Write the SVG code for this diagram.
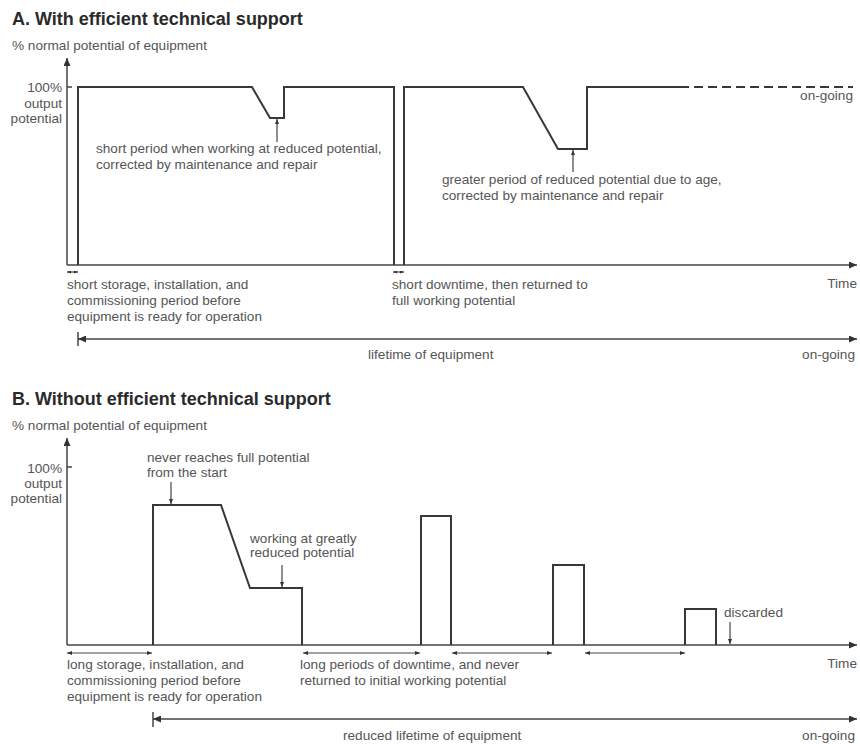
<svg xmlns="http://www.w3.org/2000/svg" width="860" height="744" viewBox="0 0 860 744">
<defs>
<style>
text { font-family: "Liberation Sans", Arial, sans-serif; font-size: 13.6px; fill: #555; }
.title { font-size: 18px; font-weight: bold; fill: #2a2a2a; }
.r { text-anchor: end; }
.curve { fill: none; stroke: #383838; stroke-width: 2; stroke-linejoin: miter; }
.axis { fill: none; stroke: #444; stroke-width: 1.5; }
.ptr { fill: none; stroke: #444; stroke-width: 1.2; }
.dash { stroke-dasharray: 9 5; }
</style>
<marker id="ah" viewBox="0 0 8 7" refX="8" refY="3.5" markerWidth="8" markerHeight="7" markerUnits="userSpaceOnUse" orient="auto-start-reverse"><path d="M0,0 L8,3.5 L0,7 z" fill="#333"/></marker>
<marker id="as" viewBox="0 0 5 4" refX="5" refY="2" markerWidth="5" markerHeight="4" markerUnits="userSpaceOnUse" orient="auto-start-reverse"><path d="M0,0 L5,2 L0,4 z" fill="#333"/></marker>
<marker id="at" viewBox="0 0 4 3" refX="4" refY="1.5" markerWidth="4" markerHeight="3" markerUnits="userSpaceOnUse" orient="auto-start-reverse"><path d="M0,0 L4,1.5 L0,3 z" fill="#333"/></marker>
</defs>

<g id="sectionA">
  <g id="A-title"><text class="title" x="12" y="25">A. With efficient technical support</text></g>
  <g id="A-yaxis">
    <text x="12" y="50">% normal potential of equipment</text>
    <line class="axis" x1="67" y1="265" x2="67" y2="58" marker-end="url(#ah)"/>
    <line class="axis" x1="67" y1="87" x2="72" y2="87"/>
    <text class="r" x="62" y="92">100%</text>
    <text class="r" x="62" y="108">output</text>
    <text class="r" x="62" y="123">potential</text>
  </g>
  <g id="A-xaxis">
    <line class="axis" x1="67" y1="265" x2="857" y2="265" marker-end="url(#ah)"/>
    <text class="r" x="857" y="288">Time</text>
  </g>
  <g id="A-curve">
    <path class="curve" d="M78,265 V87 H252 L270,118 H284 V87 H394 V265"/>
    <path class="curve" d="M404,265 V87 H523 L558,149 H587 V87 H680"/>
    <path class="curve dash" d="M680,87 H853"/>
    <text class="r" x="853" y="100">on-going</text>
  </g>
  <g id="A-note1">
    <text x="96" y="153">short period when working at reduced potential,</text>
    <text x="96" y="169">corrected by maintenance and repair</text>
  </g>
  <g id="A-note2">
    <text x="442" y="184">greater period of reduced potential due to age,</text>
    <text x="442" y="200">corrected by maintenance and repair</text>
  </g>
  <g id="A-note3">
    <text x="67" y="289">short storage, installation, and</text>
    <text x="67" y="305">commissioning period before</text>
    <text x="67" y="321">equipment is ready for operation</text>
  </g>
  <g id="A-note4">
    <text x="392" y="289">short downtime, then returned to</text>
    <text x="392" y="305">full working potential</text>
  </g>
  <g id="A-lifetime">
    <line class="axis" x1="78" y1="332" x2="78" y2="346"/>
    <line class="axis" x1="78" y1="339" x2="857" y2="339" marker-start="url(#ah)" marker-end="url(#ah)"/>
    <text x="368" y="359">lifetime of equipment</text>
    <text class="r" x="855" y="359">on-going</text>
  </g>
</g>

<g id="sectionB">
  <g id="B-title"><text class="title" x="12" y="405">B. Without efficient technical support</text></g>
  <g id="B-yaxis">
    <text x="12" y="430">% normal potential of equipment</text>
    <line class="axis" x1="67" y1="645" x2="67" y2="438" marker-end="url(#ah)"/>
    <line class="axis" x1="67" y1="467" x2="72" y2="467"/>
    <text class="r" x="62" y="473">100%</text>
    <text class="r" x="62" y="488">output</text>
    <text class="r" x="62" y="503">potential</text>
  </g>
  <g id="B-xaxis">
    <line class="axis" x1="67" y1="645" x2="857" y2="645" marker-end="url(#ah)"/>
    <text class="r" x="857" y="668">Time</text>
  </g>
  <g id="B-curve">
    <path class="curve" d="M153,645 V505 H221 L250,588 H302 V645"/>
    <path class="curve" d="M421,645 V516 H451 V645"/>
    <path class="curve" d="M553,645 V565 H584 V645"/>
    <path class="curve" d="M685,645 V609 H716 V645"/>
  </g>
  <g id="B-note1">
    <text x="147" y="462">never reaches full potential</text>
    <text x="147" y="477">from the start</text>
  </g>
  <g id="B-note2">
    <text x="250" y="543">working at greatly</text>
    <text x="250" y="557">reduced potential</text>
  </g>
  <g id="B-note3">
    <text x="724" y="617">discarded</text>
  </g>
  <g id="B-note4">
    <text x="67" y="669">long storage, installation, and</text>
    <text x="67" y="685">commissioning period before</text>
    <text x="67" y="701">equipment is ready for operation</text>
  </g>
  <g id="B-note5">
    <text x="300" y="669">long periods of downtime, and never</text>
    <text x="300" y="685">returned to initial working potential</text>
  </g>
  <g id="B-lifetime">
    <line class="axis" x1="153" y1="712" x2="153" y2="727"/>
    <line class="axis" x1="153" y1="719" x2="857" y2="719" marker-start="url(#ah)" marker-end="url(#ah)"/>
    <text x="343" y="740">reduced lifetime of equipment</text>
    <text class="r" x="855" y="740">on-going</text>
  </g>
</g>

<g id="connectors">
  <line class="ptr" x1="277" y1="142" x2="277" y2="119" marker-end="url(#as)"/>
  <line class="ptr" x1="573" y1="172" x2="573" y2="150" marker-end="url(#as)"/>
  <line class="ptr" x1="67" y1="272" x2="78" y2="272" marker-start="url(#at)" marker-end="url(#at)"/>
  <line class="ptr" x1="393" y1="272" x2="404" y2="272" marker-start="url(#at)" marker-end="url(#at)"/>
  <line class="ptr" x1="171" y1="482" x2="171" y2="504" marker-end="url(#as)"/>
  <line class="ptr" x1="282" y1="565" x2="282" y2="587" marker-end="url(#as)"/>
  <line class="ptr" x1="730" y1="622" x2="730" y2="644" marker-end="url(#as)"/>
  <line class="ptr" x1="67" y1="653" x2="152" y2="653" marker-start="url(#as)" marker-end="url(#as)"/>
  <line class="ptr" x1="303" y1="653" x2="420" y2="653" marker-start="url(#as)" marker-end="url(#as)"/>
  <line class="ptr" x1="452" y1="653" x2="552" y2="653" marker-start="url(#as)" marker-end="url(#as)"/>
  <line class="ptr" x1="585" y1="653" x2="685" y2="653" marker-start="url(#as)" marker-end="url(#as)"/>
</g>
</svg>
